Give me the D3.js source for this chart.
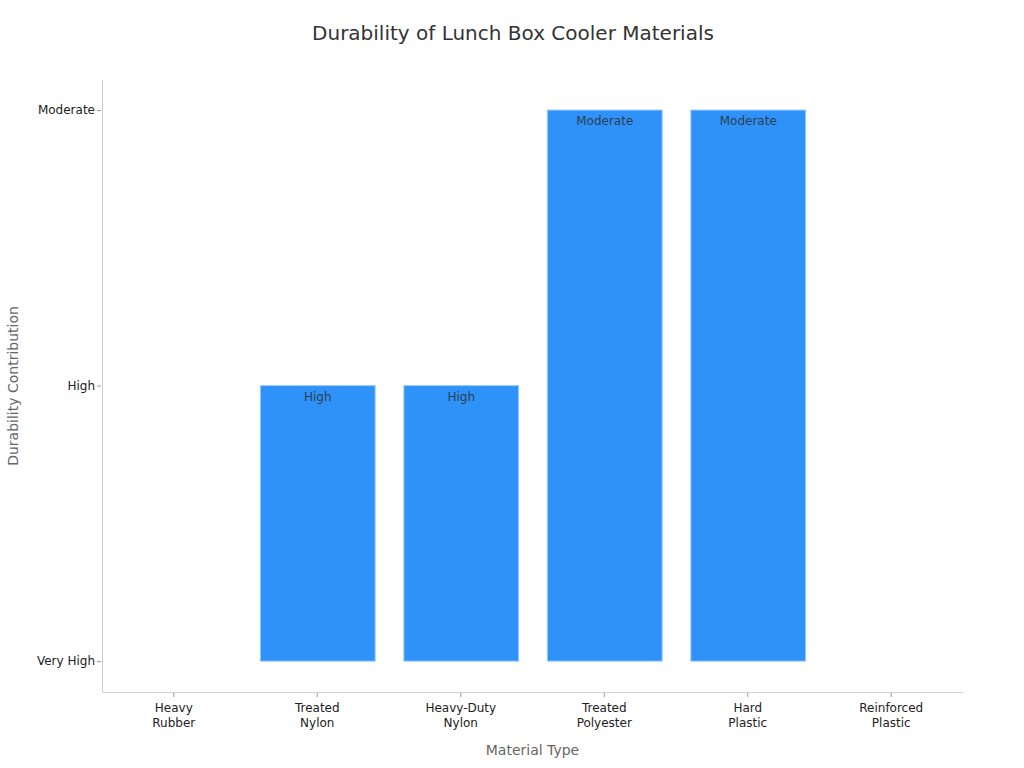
<!DOCTYPE html>
<html>
<head>
<meta charset="utf-8">
<script src="https://cdn.jsdelivr.net/npm/d3@7"></script>
<style>
  body { margin: 0; background: #fff; }
  text { font-family: "DejaVu Sans", sans-serif; }
</style>
</head>
<body>
<div id="chart"></div>
<script>
// data
var materials = ["Heavy Rubber", "Treated Nylon", "Heavy-Duty Nylon", "Treated Polyester", "Hard Plastic", "Reinforced Plastic"];
var levels = ["Very High", "High", "Moderate"];
var durability = ["Very High", "High", "High", "Moderate", "Moderate", "Very High"];

var data = materials.map(function(m, i) { return {name: m, level: durability[i]}; });

var W = 1024, H = 768;
var margin = {top: 80, right: 61, bottom: 76, left: 102},
    width = W - margin.left - margin.right,
    height = H - margin.top - margin.bottom;

var svg = d3.select("#chart")
    .append("svg")
    .attr("width", W)
    .attr("height", H);

svg.append("text")
    .attr("x", 513)
    .attr("y", 40)
    .attr("text-anchor", "middle")
    .style("font-size", "20px")
    .style("fill", "#333")
    .text("Durability of Lunch Box Cooler Materials");

var g = svg.append("g")
    .attr("transform", "translate(" + margin.left + "," + margin.top + ")");

var x = d3.scaleBand()
    .range([0, width])
    .domain(materials)
    .paddingInner(0.2)
    .paddingOuter(0.1);

// level index as numeric value, with some room above and below
var y = d3.scaleLinear()
    .domain([-0.112, 2.109])
    .range([height, 0]);

// X axis
var xAxis = g.append("g")
    .attr("transform", "translate(0," + height + ")")
    .call(d3.axisBottom(x).tickSize(5).tickSizeOuter(0).tickPadding(6));
xAxis.select(".domain").attr("stroke", "#d0d0d0");
xAxis.selectAll(".tick line").attr("stroke", "#999").attr("y1", 1).attr("y2", 5);
xAxis.selectAll(".tick text")
    .style("font-size", "12px")
    .style("fill", "#222")
    .each(function(d) {
        var t = d3.select(this), words = d.split(" ");
        t.text(null);
        words.forEach(function(w, i) {
            t.append("tspan").attr("x", 0).attr("dy", i === 0 ? "0.71em" : "1.33em").text(w);
        });
    });

// Y axis
var yAxis = g.append("g")
    .call(d3.axisLeft(y)
        .tickValues(d3.range(levels.length))
        .tickFormat(function(d) { return levels[d]; })
        .tickSize(5).tickSizeOuter(0).tickPadding(2));
yAxis.select(".domain").attr("stroke", "#d0d0d0").attr("d", "M0.5," + height + "V0");
yAxis.selectAll(".tick line").attr("stroke", "#999").attr("x1", -1).attr("x2", -5);
yAxis.selectAll(".tick text").style("font-size", "12px").style("fill", "#222");

// axis titles
svg.append("text")
    .attr("x", margin.left + width / 2)
    .attr("y", 755)
    .attr("text-anchor", "middle")
    .style("font-size", "14px")
    .style("fill", "#666")
    .text("Material Type");

svg.append("text")
    .attr("transform", "translate(18," + (margin.top + height / 2) + ")rotate(-90)")
    .attr("text-anchor", "middle")
    .style("font-size", "14px")
    .style("fill", "#666")
    .text("Durability Contribution");

// Bars
g.selectAll(".bar")
    .data(data)
    .enter()
    .append("rect")
    .attr("class", "bar")
    .attr("x", function(d) { return x(d.name) + 0.5; })
    .attr("y", function(d) { return y(levels.indexOf(d.level)); })
    .attr("width", x.bandwidth())
    .attr("height", function(d) { return y(0) - y(levels.indexOf(d.level)); })
    .attr("fill", "#2f92f8")
    .attr("stroke", "#9ccaf7")
    .attr("stroke-width", 1);

// labels
g.selectAll(".lbl")
    .data(data.filter(function(d) { return levels.indexOf(d.level) > 0; }))
    .enter()
    .append("text")
    .attr("class", "lbl")
    .attr("x", function(d) { return x(d.name) + x.bandwidth() / 2 + 0.5; })
    .attr("y", function(d) { return y(levels.indexOf(d.level)) + 15; })
    .attr("text-anchor", "middle")
    .style("font-size", "12px")
    .style("fill", "#2d3e50")
    .text(function(d) { return d.level; });
</script>
</body>
</html>
